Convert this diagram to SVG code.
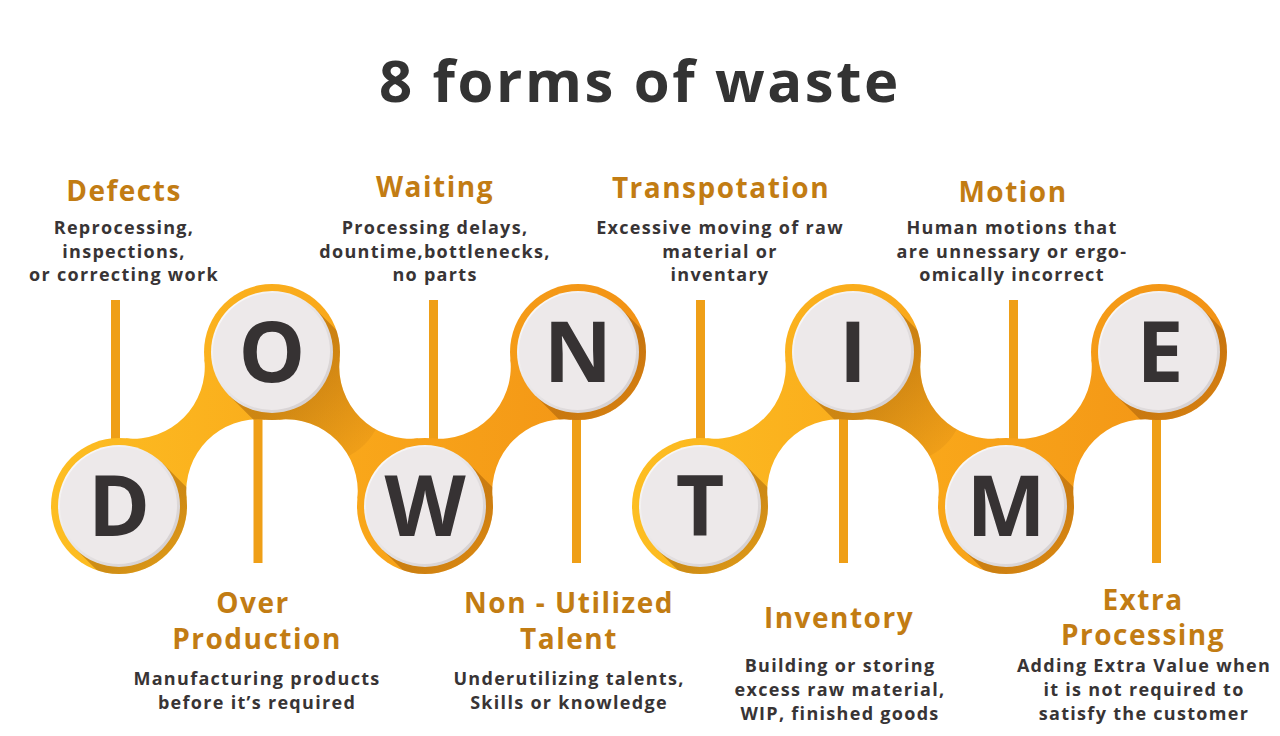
<svg xmlns="http://www.w3.org/2000/svg" xmlns:xlink="http://www.w3.org/1999/xlink" width="1280" height="736" viewBox="0 0 1280 736">
<style>
text{font-family:"Open Sans","Liberation Sans",sans-serif;font-weight:700;text-anchor:middle}
.title{font-size:58px;fill:#333333;letter-spacing:2.6px}
.h{font-size:28px;fill:#C27C13;letter-spacing:1.5px}
.d{font-size:18px;fill:#383435;letter-spacing:1.3px}
.L{font-size:84px;fill:#363233}
.stem{fill:#EF9F17}
.ring1{fill:url(#band1)}
.ring2{fill:url(#band2)}
.rim{fill:url(#rimg)}
.face{fill:#EDE9EA}
</style>
<defs>
<linearGradient id="band1" gradientUnits="userSpaceOnUse" x1="50" y1="0" x2="650" y2="0">
<stop offset="0" stop-color="#FDBE22"/><stop offset="0.5" stop-color="#F9A71A"/><stop offset="1" stop-color="#F29215"/>
</linearGradient>
<linearGradient id="band2" gradientUnits="userSpaceOnUse" x1="630" y1="0" x2="1230" y2="0">
<stop offset="0" stop-color="#FDBE22"/><stop offset="0.5" stop-color="#F9A71A"/><stop offset="1" stop-color="#F29215"/>
</linearGradient>
<linearGradient id="rimg" x1="0" y1="0" x2="1" y2="1">
<stop offset="0" stop-color="#FFFFFF"/><stop offset="1" stop-color="#CFC9CA"/>
</linearGradient>
<linearGradient id="shg" x1="0" y1="0" x2="1" y2="1">
<stop offset="0.45" stop-color="#8A4A05" stop-opacity="0.4"/><stop offset="1" stop-color="#8A4A05" stop-opacity="0"/>
</linearGradient>
<path id="shadow" d="M43.13,-43.13 L93.13,6.87 A61,61 0 0 1 6.87,93.13 L-43.13,43.13 Z" fill="url(#shg)"/>
<path id="nDO" d="M125.69,438.33 A72,72 0 0 0 204.37,359.13 L265.31,419.67 A72,72 0 0 0 186.63,498.87 Z"/>
<path id="nOW" d="M278.69,419.67 A72,72 0 0 1 357.37,498.87 L418.31,438.33 A72,72 0 0 1 339.63,359.13 Z"/>
<path id="nWN" d="M431.69,438.33 A72,72 0 0 0 510.37,359.13 L571.31,419.67 A72,72 0 0 0 492.63,498.87 Z"/>
<path id="nTI" d="M706.69,438.33 A72,72 0 0 0 785.37,359.13 L846.31,419.67 A72,72 0 0 0 767.63,498.87 Z"/>
<path id="nIM" d="M859.69,419.67 A72,72 0 0 1 938.37,498.87 L999.31,438.33 A72,72 0 0 1 920.63,359.13 Z"/>
<path id="nME" d="M1012.69,438.33 A72,72 0 0 0 1091.37,359.13 L1152.31,419.67 A72,72 0 0 0 1073.63,498.87 Z"/>
<clipPath id="clip1">
<circle cx="119" cy="506" r="68"/><circle cx="272" cy="352" r="68"/><circle cx="425" cy="506" r="68"/><circle cx="578" cy="352" r="68"/>
<use xlink:href="#nDO"/><use xlink:href="#nOW"/><use xlink:href="#nWN"/>
</clipPath>
<clipPath id="clip2">
<circle cx="700" cy="506" r="68"/><circle cx="853" cy="352" r="68"/><circle cx="1006" cy="506" r="68"/><circle cx="1159" cy="352" r="68"/>
<use xlink:href="#nTI"/><use xlink:href="#nIM"/><use xlink:href="#nME"/>
</clipPath>
</defs>
<rect width="1280" height="736" fill="#FFFFFF"/>
<text class="title" x="640" y="102">8 forms of waste</text>
<g id="stems">
<rect class="stem" x="111" y="300" width="9" height="142"/>
<rect class="stem" x="429" y="300" width="9" height="142"/>
<rect class="stem" x="696" y="300" width="9" height="142"/>
<rect class="stem" x="1009" y="300" width="9" height="142"/>
<rect class="stem" x="253.5" y="416" width="9" height="147"/>
<rect class="stem" x="572" y="416" width="9" height="147"/>
<rect class="stem" x="839" y="416" width="9" height="147"/>
<rect class="stem" x="1152" y="416" width="9" height="147"/>
</g>
<g id="connectors">
<use xlink:href="#nDO" fill="url(#band1)"/>
<use xlink:href="#nOW" fill="url(#band1)"/>
<use xlink:href="#nWN" fill="url(#band1)"/>
<use xlink:href="#nTI" fill="url(#band2)"/>
<use xlink:href="#nIM" fill="url(#band2)"/>
<use xlink:href="#nME" fill="url(#band2)"/>
</g>
<g id="node-D">
<circle class="ring1" cx="119" cy="506" r="68"/>
<g clip-path="url(#clip1)"><use xlink:href="#shadow" x="119" y="506"/></g>
<circle class="rim" cx="119" cy="506" r="61"/><circle class="face" cx="118.5" cy="505.5" r="58.5"/>
<text class="L" x="119" y="536">D</text>
<text class="h" x="124" y="201">Defects</text>
<text class="d" x="124" y="234">Reprocessing,</text>
<text class="d" x="124" y="258">inspections,</text>
<text class="d" x="124" y="281">or correcting work</text>
</g>
<g id="node-O">
<circle class="ring1" cx="272" cy="352" r="68"/>
<g clip-path="url(#clip1)"><use xlink:href="#shadow" x="272" y="352"/></g>
<circle class="rim" cx="272" cy="352" r="61"/><circle class="face" cx="271.5" cy="351.5" r="58.5"/>
<text class="L" x="272" y="382">O</text>
<text class="h" x="253" y="613">Over</text>
<text class="h" x="257" y="649">Production</text>
<text class="d" x="257" y="685">Manufacturing products</text>
<text class="d" x="257" y="709">before it’s required</text>
</g>
<g id="node-W">
<circle class="ring1" cx="425" cy="506" r="68"/>
<g clip-path="url(#clip1)"><use xlink:href="#shadow" x="425" y="506"/></g>
<circle class="rim" cx="425" cy="506" r="61"/><circle class="face" cx="424.5" cy="505.5" r="58.5"/>
<text class="L" x="425" y="536">W</text>
<text class="h" x="435" y="197">Waiting</text>
<text class="d" x="435" y="234">Processing delays,</text>
<text class="d" x="435" y="258">dountime,bottlenecks,</text>
<text class="d" x="435" y="281">no parts</text>
</g>
<g id="node-N">
<circle class="ring1" cx="578" cy="352" r="68"/>
<g clip-path="url(#clip1)"><use xlink:href="#shadow" x="578" y="352"/></g>
<circle class="rim" cx="578" cy="352" r="61"/><circle class="face" cx="577.5" cy="351.5" r="58.5"/>
<text class="L" x="578" y="382">N</text>
<text class="h" x="569" y="613">Non - Utilized</text>
<text class="h" x="569" y="649">Talent</text>
<text class="d" x="569" y="685">Underutilizing talents,</text>
<text class="d" x="569" y="709">Skills or knowledge</text>
</g>
<g id="node-T">
<circle class="ring2" cx="700" cy="506" r="68"/>
<g clip-path="url(#clip2)"><use xlink:href="#shadow" x="700" y="506"/></g>
<circle class="rim" cx="700" cy="506" r="61"/><circle class="face" cx="699.5" cy="505.5" r="58.5"/>
<text class="L" x="700" y="536">T</text>
<text class="h" x="721" y="198">Transpotation</text>
<text class="d" x="720" y="234">Excessive moving of raw</text>
<text class="d" x="720" y="258">material or</text>
<text class="d" x="720" y="281">inventary</text>
</g>
<g id="node-I">
<circle class="ring2" cx="853" cy="352" r="68"/>
<g clip-path="url(#clip2)"><use xlink:href="#shadow" x="853" y="352"/></g>
<circle class="rim" cx="853" cy="352" r="61"/><circle class="face" cx="852.5" cy="351.5" r="58.5"/>
<text class="L" x="853" y="382">I</text>
<text class="h" x="839" y="628">Inventory</text>
<text class="d" x="840" y="672">Building or storing</text>
<text class="d" x="840" y="696">excess raw material,</text>
<text class="d" x="840" y="720">WIP, finished goods</text>
</g>
<g id="node-M">
<circle class="ring2" cx="1006" cy="506" r="68"/>
<g clip-path="url(#clip2)"><use xlink:href="#shadow" x="1006" y="506"/></g>
<circle class="rim" cx="1006" cy="506" r="61"/><circle class="face" cx="1005.5" cy="505.5" r="58.5"/>
<text class="L" x="1006" y="536">M</text>
<text class="h" x="1013" y="202">Motion</text>
<text class="d" x="1012" y="234">Human motions that</text>
<text class="d" x="1012" y="258">are unnessary or ergo-</text>
<text class="d" x="1012" y="281">omically incorrect</text>
</g>
<g id="node-E">
<circle class="ring2" cx="1159" cy="352" r="68"/>
<g clip-path="url(#clip2)"><use xlink:href="#shadow" x="1159" y="352"/></g>
<circle class="rim" cx="1159" cy="352" r="61"/><circle class="face" cx="1158.5" cy="351.5" r="58.5"/>
<text class="L" x="1160" y="382">E</text>
<text class="h" x="1143" y="610">Extra</text>
<text class="h" x="1143" y="645">Processing</text>
<text class="d" x="1144" y="672">Adding Extra Value when</text>
<text class="d" x="1144" y="696">it is not required to</text>
<text class="d" x="1144" y="720">satisfy the customer</text>
</g>
</svg>
